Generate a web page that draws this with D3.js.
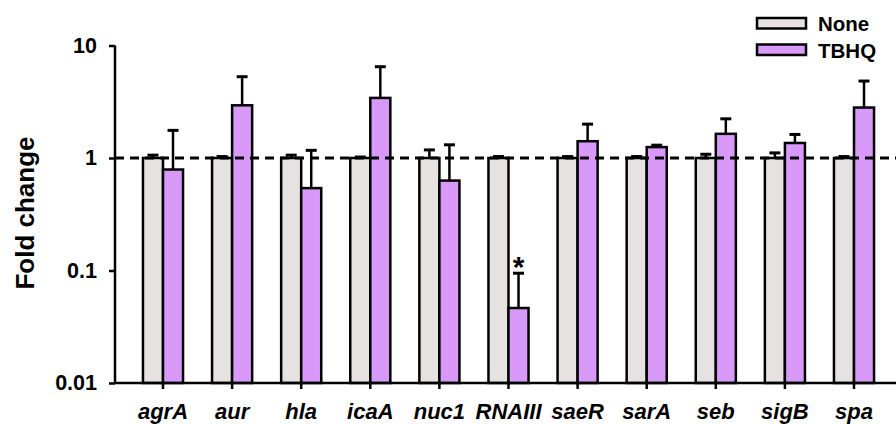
<!DOCTYPE html>
<html>
<head>
<meta charset="utf-8">
<script src="https://cdn.jsdelivr.net/npm/d3@7"></script>
<style>
  body { margin: 0; background: #fff; }
  svg { display: block; font-family: "Liberation Sans", Arial, sans-serif; }
</style>
</head>
<body>
<svg id="chart" width="896" height="424"></svg>
<script>
// genes on the x axis
let genes = ["agrA", "aur", "hla", "icaA", "nuc1", "RNAIII", "saeR", "sarA", "seb", "sigB", "spa"]
let series = ["None", "TBHQ"]

// mean fold change and top of error bar (mean + SD)
let noneVals  = [1, 1, 1, 1, 1, 1, 1, 1, 1, 1, 1]
let noneUpper = [1.06, 1.03, 1.06, 1.02, 1.18, 1.03, 1.03, 1.03, 1.08, 1.11, 1.03]
let tbhqVals  = [0.79, 2.94, 0.54, 3.42, 0.63, 0.0464, 1.41, 1.25, 1.64, 1.36, 2.81]
let tbhqUpper = [1.76, 5.28, 1.17, 6.48, 1.31, 0.0946, 2.0, 1.30, 2.23, 1.62, 4.83]

let yTicks = [0.01, 0.1, 1, 10]
let starred = ["RNAIII"]

let colors = {None: "#e6e2e2", TBHQ: "#d899f8"}

let chart = d3.select("#chart")
let width = 896
let axisX = 115
let yTop = 45.5, yBottom = 383

let x0 = d3.scaleBand()
    .domain(genes)
    .range([128.45, 888.55])
    .paddingInner(0.42)
    .paddingOuter(0.21)

let x1 = d3.scaleBand()
    .domain(series)
    .range([0, x0.bandwidth()])

let yscale = d3.scaleLog()
    .domain([0.01, 10])
    .range([yBottom, yTop])

let rows = genes.map((g, i) => ({
    gene: g,
    bars: [
        {key: "None", value: noneVals[i], upper: noneUpper[i]},
        {key: "TBHQ", value: tbhqVals[i], upper: tbhqUpper[i]}
    ]
}))

// y axis
let yAxis = chart.append("g")
    .attr("transform", "translate(" + axisX + ",0)")
    .call(d3.axisLeft(yscale).tickValues(yTicks).tickFormat(d => String(d)).tickSize(6).tickPadding(12))
yAxis.select(".domain").attr("stroke-width", 2.5).attr("d", "M0," + yTop + "V" + yBottom)
yAxis.selectAll(".tick line").attr("stroke-width", 2.5)
yAxis.selectAll(".tick text")
    .attr("font-size", 21.5).attr("font-weight", "bold").attr("fill", "#000")
    .attr("font-family", "'Liberation Sans', Arial, sans-serif")

chart.append("text")
    .attr("transform", "translate(34," + 213 + ") rotate(-90)")
    .attr("text-anchor", "middle")
    .attr("font-size", 26).attr("font-weight", "bold")
    .text("Fold change")

// bars
let groups = chart.selectAll("g.gene").data(rows)
    .enter().append("g")
    .attr("class", "gene")
    .attr("transform", d => "translate(" + x0(d.gene) + ",0)")

groups.selectAll("rect").data(d => d.bars)
    .enter().append("rect")
    .attr("x", d => x1(d.key))
    .attr("y", d => yscale(d.value))
    .attr("width", x1.bandwidth())
    .attr("height", d => yBottom - yscale(d.value))
    .attr("fill", d => colors[d.key])
    .attr("stroke", "#000")
    .attr("stroke-width", 2.5)

// error bars
let err = groups.selectAll("g.err").data(d => d.bars)
    .enter().append("g").attr("class", "err")
err.append("line")
    .attr("x1", d => x1(d.key) + x1.bandwidth() / 2)
    .attr("x2", d => x1(d.key) + x1.bandwidth() / 2)
    .attr("y1", d => yscale(d.value))
    .attr("y2", d => yscale(d.upper))
    .attr("stroke", "#000").attr("stroke-width", 2.5)
err.append("line")
    .attr("x1", d => x1(d.key) + x1.bandwidth() / 2 - 5.5)
    .attr("x2", d => x1(d.key) + x1.bandwidth() / 2 + 5.5)
    .attr("y1", d => yscale(d.upper))
    .attr("y2", d => yscale(d.upper))
    .attr("stroke", "#000").attr("stroke-width", 3)

// significance marks
groups.filter(d => starred.includes(d.gene))
    .append("text")
    .attr("x", x1("TBHQ") + x1.bandwidth() / 2)
    .attr("y", d => yscale(d.bars[1].upper) + 4)
    .attr("text-anchor", "middle")
    .attr("font-size", 30).attr("font-weight", "bold")
    .text("*")

// reference line at 1
chart.append("line")
    .attr("x1", axisX).attr("x2", width)
    .attr("y1", yscale(1)).attr("y2", yscale(1))
    .attr("stroke", "#000").attr("stroke-width", 2.8)
    .attr("stroke-dasharray", "9,6")

// x axis
let xAxis = chart.append("g")
    .attr("transform", "translate(0," + yBottom + ")")
    .call(d3.axisBottom(x0).tickSize(6).tickSizeOuter(0).tickPadding(14))
xAxis.select(".domain").attr("stroke-width", 2.5).attr("d", "M" + axisX + ",0H" + width)
xAxis.selectAll(".tick line").attr("stroke-width", 2.5)
xAxis.selectAll(".tick text")
    .attr("font-size", 22).attr("font-weight", "bold").attr("font-style", "italic").attr("fill", "#000")
    .attr("font-family", "'Liberation Sans', Arial, sans-serif")

// legend
let legend = chart.selectAll("g.legend").data(series)
    .enter().append("g")
    .attr("class", "legend")
    .attr("transform", (d, i) => "translate(757," + (18 + i * 26.5) + ")")
legend.append("rect")
    .attr("width", 49).attr("height", 10.5)
    .attr("fill", d => colors[d])
    .attr("stroke", "#000").attr("stroke-width", 2.5)
legend.append("text")
    .attr("x", 61).attr("y", 13)
    .attr("font-size", 20.5).attr("font-weight", "bold")
    .text(d => d)
</script>
</body>
</html>
